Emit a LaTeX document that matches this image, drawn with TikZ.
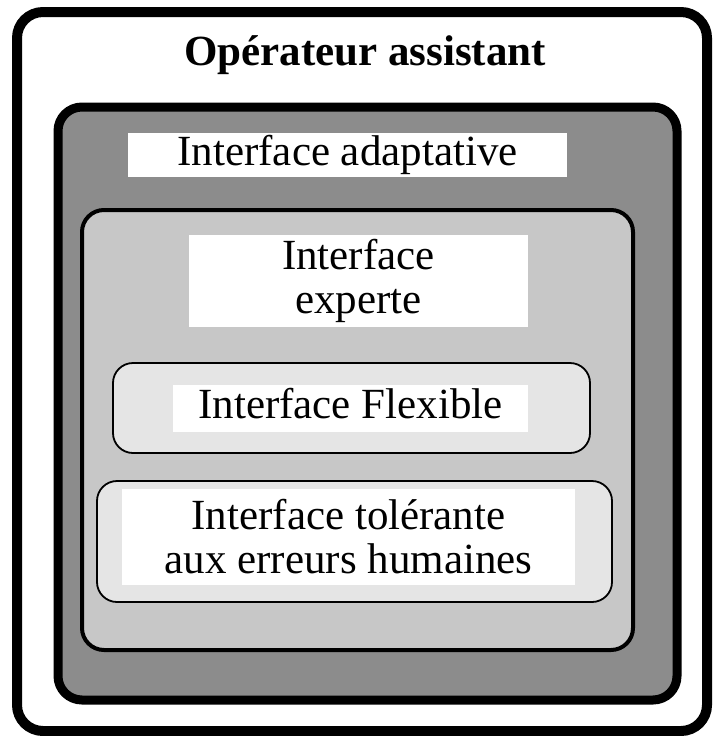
\documentclass[tikz,border=0pt]{standalone}
\usepackage{fontspec}
\setmainfont{Liberation Serif}
\begin{document}
\begin{tikzpicture}[x=1pt,y=-1pt,
    textbox/.style={fill=white,inner sep=0pt,align=center,font=\fontsize{43}{44}\selectfont},
    oneline/.style={text height=29pt,text depth=9pt}]
    \useasboundingbox (0,0) rectangle (713,736);
    \draw[line width=10pt,rounded corners=26pt] (17,12) rectangle (707,731);
    \filldraw[fill=black!45,line width=9pt,rounded corners=24pt] (58,107) rectangle (677,700);
    \filldraw[fill=black!22,line width=4pt,rounded corners=22pt] (82,210) rectangle (633,650);
    \filldraw[fill=black!10,line width=1.8pt,rounded corners=20pt] (113,363) rectangle (590,453);
    \filldraw[fill=black!10,line width=1.8pt,rounded corners=20pt] (97,481) rectangle (612,602);
    \node[anchor=base,font=\fontsize{43}{44}\selectfont\bfseries] (title) at (365,65) {Opérateur assistant};
    \node[textbox,oneline,minimum width=439pt,minimum height=44pt] (adaptative) at (347.5,155) {Interface adaptative};
    \node[textbox,minimum width=339pt,minimum height=92pt] (experte) at (358.5,281) {Interface\\experte};
    \node[textbox,oneline,minimum width=355pt,minimum height=47pt] (flexible) at (350.5,408.5) {Interface Flexible};
    \node[textbox,minimum width=453pt,minimum height=96pt] (tolerante) at (348.5,537) {Interface tolérante\\aux erreurs humaines};
\end{tikzpicture}
\end{document}
